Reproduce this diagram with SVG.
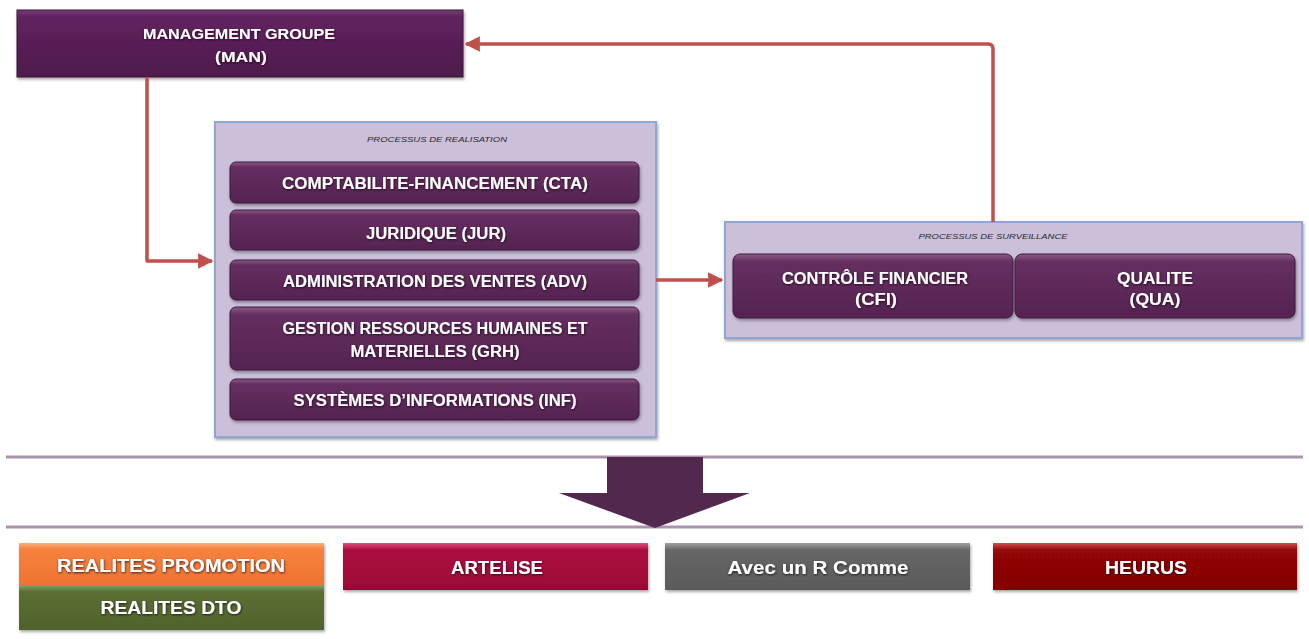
<svg xmlns="http://www.w3.org/2000/svg" width="1309" height="639" viewBox="0 0 1309 639">
  <defs>
    <style>
      .lbl { font-family: "Liberation Sans", Arial, sans-serif; font-weight: bold; fill: #ffffff; text-anchor: middle; }
      .sm { font-size: 14px; }
      .md { font-size: 16px; }
      .lg { font-size: 18px; }
      .cap { font-family: "Liberation Sans", Arial, sans-serif; font-style: italic; font-size: 7.5px; fill: #2a2a2a; text-anchor: middle; }
      .box { fill: url(#gPurple); stroke: #3e1a3c; stroke-width: 1; }
      .panel { fill: #cbbfd9; stroke: #8fa6d2; stroke-width: 2; }
      .link { fill: none; stroke: #c0504d; stroke-width: 3.5; stroke-linejoin: round; }
      .rule { stroke: #ab93ab; stroke-width: 3; }
    </style>
    <linearGradient id="gPurple" x1="0" y1="0" x2="0" y2="1">
      <stop offset="0" stop-color="#8b5c88"/>
      <stop offset="0.12" stop-color="#652f60"/>
      <stop offset="1" stop-color="#552351"/>
    </linearGradient>
    <linearGradient id="gMan" x1="0" y1="0" x2="0" y2="1">
      <stop offset="0" stop-color="#7a3e76"/>
      <stop offset="0.1" stop-color="#622260"/>
      <stop offset="1" stop-color="#4e1a4b"/>
    </linearGradient>
    <linearGradient id="gOrange" x1="0" y1="0" x2="0" y2="1">
      <stop offset="0" stop-color="#fbb07a"/>
      <stop offset="0.15" stop-color="#f6823e"/>
      <stop offset="1" stop-color="#f07331"/>
    </linearGradient>
    <linearGradient id="gGreen" x1="0" y1="0" x2="0" y2="1">
      <stop offset="0" stop-color="#8aa065"/>
      <stop offset="0.15" stop-color="#5a6f33"/>
      <stop offset="1" stop-color="#4f622c"/>
    </linearGradient>
    <linearGradient id="gCrimson" x1="0" y1="0" x2="0" y2="1">
      <stop offset="0" stop-color="#e0507a"/>
      <stop offset="0.15" stop-color="#ac0b40"/>
      <stop offset="1" stop-color="#9c0636"/>
    </linearGradient>
    <linearGradient id="gGrey" x1="0" y1="0" x2="0" y2="1">
      <stop offset="0" stop-color="#a0a0a0"/>
      <stop offset="0.15" stop-color="#676767"/>
      <stop offset="1" stop-color="#5a5a5a"/>
    </linearGradient>
    <linearGradient id="gRed" x1="0" y1="0" x2="0" y2="1">
      <stop offset="0" stop-color="#d0504a"/>
      <stop offset="0.15" stop-color="#920707"/>
      <stop offset="1" stop-color="#840303"/>
    </linearGradient>
    <filter id="shadow" x="-5%" y="-20%" width="110%" height="150%">
      <feDropShadow dx="1" dy="2" stdDeviation="1.5" flood-color="#000000" flood-opacity="0.35"/>
    </filter>
    <filter id="glow" x="-5%" y="-30%" width="110%" height="160%">
      <feDropShadow dx="0.5" dy="1" stdDeviation="0.8" flood-color="#1a001a" flood-opacity="0.8"/>
    </filter>
    <marker id="head" viewBox="0 0 10 10" refX="9" refY="5" markerWidth="4.4" markerHeight="4.4" orient="auto-start-reverse" markerUnits="strokeWidth">
      <path d="M0,0 L10,5 L0,10 z" fill="#c0504d"/>
    </marker>
  </defs>

  <rect x="0" y="0" width="1309" height="639" fill="#ffffff"/>

  <!-- top management box -->
  <g id="man">
    <rect x="17" y="10" width="446" height="67" fill="url(#gMan)" stroke="#3a1238" stroke-width="1" filter="url(#shadow)"/>
    <g filter="url(#glow)">
      <text class="lbl sm" x="239" y="39" textLength="192" lengthAdjust="spacingAndGlyphs">MANAGEMENT GROUPE</text>
      <text class="lbl sm" x="241" y="62" textLength="52" lengthAdjust="spacingAndGlyphs">(MAN)</text>
    </g>
  </g>

  <!-- realisation processes -->
  <g id="realisation">
    <rect class="panel" x="215" y="122" width="441" height="315" filter="url(#shadow)"/>
    <text class="cap" x="437" y="142" textLength="140" lengthAdjust="spacingAndGlyphs">PROCESSUS DE REALISATION</text>
  </g>
  <g id="cta">
    <rect class="box" x="230" y="162" width="409" height="41" rx="6" filter="url(#shadow)"/>
    <text class="lbl md" x="435" y="189" textLength="306" lengthAdjust="spacingAndGlyphs" filter="url(#glow)">COMPTABILITE-FINANCEMENT (CTA)</text>
  </g>
  <g id="jur">
    <rect class="box" x="230" y="210" width="409" height="40" rx="6" filter="url(#shadow)"/>
    <text class="lbl md" x="436" y="239" textLength="140" lengthAdjust="spacingAndGlyphs" filter="url(#glow)">JURIDIQUE (JUR)</text>
  </g>
  <g id="adv">
    <rect class="box" x="230" y="260" width="409" height="40" rx="6" filter="url(#shadow)"/>
    <text class="lbl md" x="435" y="287" textLength="304" lengthAdjust="spacingAndGlyphs" filter="url(#glow)">ADMINISTRATION DES VENTES (ADV)</text>
  </g>
  <g id="grh">
    <rect class="box" x="230" y="307" width="409" height="63" rx="6" filter="url(#shadow)"/>
    <g filter="url(#glow)">
      <text class="lbl md" x="435" y="334" textLength="305" lengthAdjust="spacingAndGlyphs">GESTION RESSOURCES HUMAINES ET</text>
      <text class="lbl md" x="435" y="357" textLength="169" lengthAdjust="spacingAndGlyphs">MATERIELLES (GRH)</text>
    </g>
  </g>
  <g id="inf">
    <rect class="box" x="230" y="379" width="409" height="41" rx="6" filter="url(#shadow)"/>
    <text class="lbl md" x="435" y="406" textLength="283" lengthAdjust="spacingAndGlyphs" filter="url(#glow)">SYSTÈMES D’INFORMATIONS (INF)</text>
  </g>

  <!-- surveillance processes -->
  <g id="surveillance">
    <rect class="panel" x="725" y="222" width="577" height="116" filter="url(#shadow)"/>
    <text class="cap" x="993" y="239" textLength="149" lengthAdjust="spacingAndGlyphs">PROCESSUS DE SURVEILLANCE</text>
  </g>
  <g id="cfi">
    <rect class="box" x="733" y="254" width="280" height="64" rx="7" filter="url(#shadow)"/>
    <g filter="url(#glow)">
      <text class="lbl md" x="875" y="284" textLength="186" lengthAdjust="spacingAndGlyphs">CONTRÔLE FINANCIER</text>
      <text class="lbl md" x="876" y="305" textLength="42" lengthAdjust="spacingAndGlyphs">(CFI)</text>
    </g>
  </g>
  <g id="qua">
    <rect class="box" x="1015" y="254" width="280" height="64" rx="7" filter="url(#shadow)"/>
    <g filter="url(#glow)">
      <text class="lbl md" x="1155" y="284" textLength="76" lengthAdjust="spacingAndGlyphs">QUALITE</text>
      <text class="lbl md" x="1155" y="305" textLength="51" lengthAdjust="spacingAndGlyphs">(QUA)</text>
    </g>
  </g>

  <!-- connectors -->
  <g id="connectors">
    <path class="link" d="M147,77 L147,261 L212,261" marker-end="url(#head)"/>
    <path class="link" d="M656,280 L722,280" marker-end="url(#head)"/>
    <path class="link" d="M993,222 L993,49 Q993,44 988,44 L466,44" marker-end="url(#head)"/>
  </g>

  <!-- separator band with downward arrow -->
  <g id="band">
    <line class="rule" x1="6" y1="457" x2="1303" y2="457"/>
    <line class="rule" x1="6" y1="527" x2="1303" y2="527"/>
    <polygon points="607,457 703,457 703,493 750,493 655,528 559,493 607,493" fill="#52284e"/>
  </g>

  <!-- companies -->
  <g id="realites-promotion">
    <rect x="19" y="543" width="305" height="42" fill="url(#gOrange)" filter="url(#shadow)"/>
    <text class="lbl lg" x="171" y="572" textLength="228" lengthAdjust="spacingAndGlyphs" filter="url(#glow)">REALITES PROMOTION</text>
  </g>
  <g id="realites-dto">
    <rect x="19" y="585" width="305" height="45" fill="url(#gGreen)" filter="url(#shadow)"/>
    <text class="lbl lg" x="171" y="614" textLength="141" lengthAdjust="spacingAndGlyphs" filter="url(#glow)">REALITES DTO</text>
  </g>
  <g id="artelise">
    <rect x="343" y="543" width="305" height="47" fill="url(#gCrimson)" filter="url(#shadow)"/>
    <text class="lbl lg" x="497" y="574" textLength="92" lengthAdjust="spacingAndGlyphs" filter="url(#glow)">ARTELISE</text>
  </g>
  <g id="avec-un-r-comme">
    <rect x="665" y="543" width="305" height="47" fill="url(#gGrey)" filter="url(#shadow)"/>
    <text class="lbl lg" x="818" y="574" textLength="181" lengthAdjust="spacingAndGlyphs" filter="url(#glow)">Avec un R Comme</text>
  </g>
  <g id="heurus">
    <rect x="993" y="543" width="304" height="47" fill="url(#gRed)" filter="url(#shadow)"/>
    <text class="lbl lg" x="1146" y="574" textLength="82" lengthAdjust="spacingAndGlyphs" filter="url(#glow)">HEURUS</text>
  </g>
</svg>
